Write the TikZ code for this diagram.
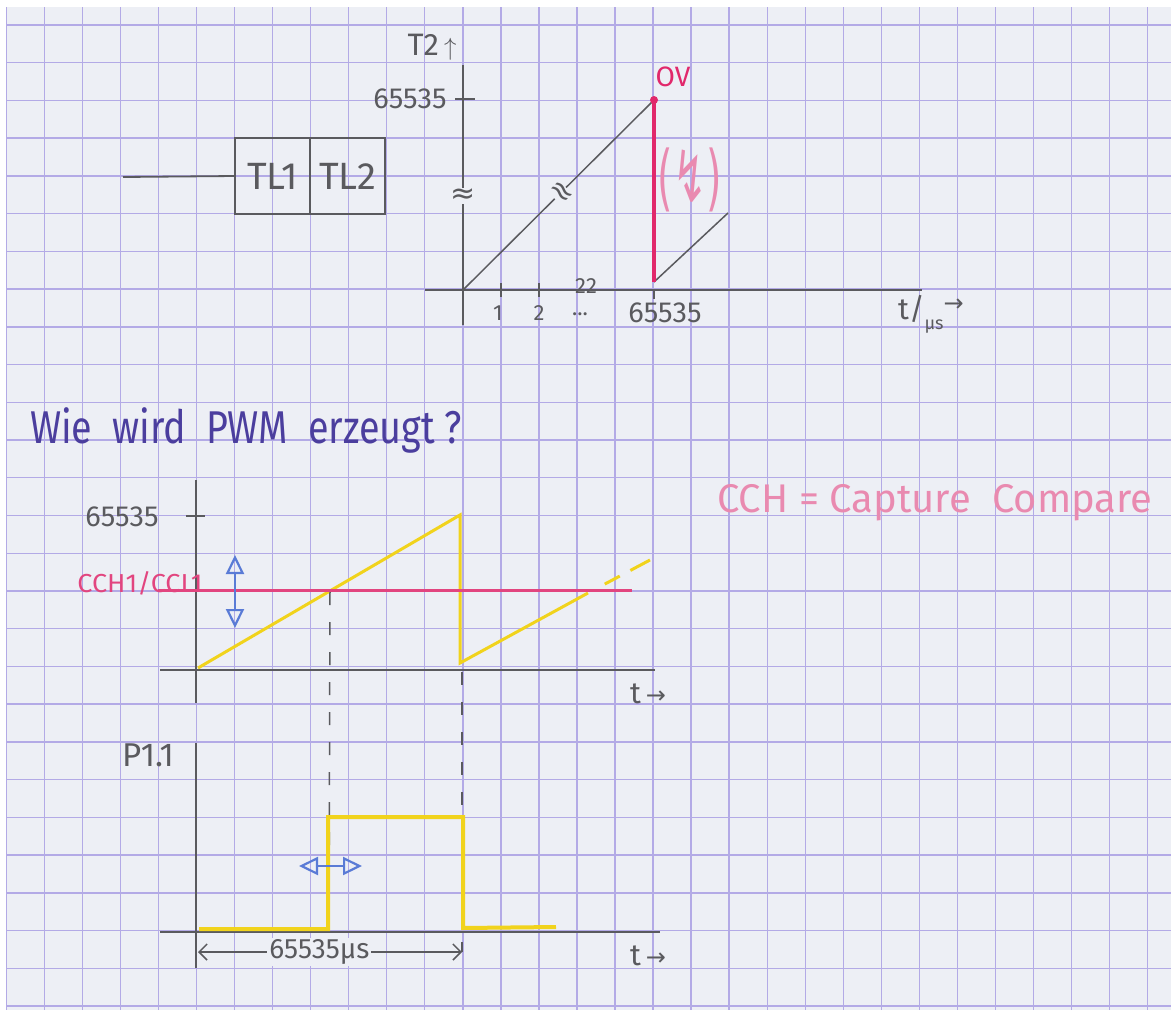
\documentclass[tikz,border=0pt]{standalone}
\usepackage{fontspec}
\setmainfont{Fira Sans}
\newfontfamily\symfont{DejaVu Sans}
\usetikzlibrary{positioning,calc,arrows.meta}
\definecolor{paper}{HTML}{EDEFF5}
\definecolor{gridlila}{HTML}{B3AAE6}
\definecolor{pencil}{HTML}{5A5A5E}
\definecolor{ccpink}{HTML}{E2457F}
\definecolor{ovred}{HTML}{E1286B}
\definecolor{lightpink}{HTML}{E98AB0}
\definecolor{pwmyellow}{HTML}{F1D31C}
\definecolor{inkblue}{HTML}{4B3E9E}
\definecolor{arrowblue}{HTML}{5A7BD6}
\newcommand{\fsz}[1]{\fontsize{#1}{#1}\selectfont}

\begin{document}
\begin{tikzpicture}[x=1pt, y=-1pt,
  gridline/.style={draw=gridlila, line width=1.4pt},
  axis/.style={draw=pencil, line width=1.8pt},
  ramp/.style={draw=pencil, line width=1.5pt},
  tickmark/.style={draw=pencil, line width=1.6pt},
  lbl/.style={text=pencil, inner sep=0pt, font=\fsz{29}},
  tlbox/.style={draw=pencil, line width=2.5pt, minimum width=75pt, minimum height=76pt, outer sep=0pt, inner sep=0pt, text=pencil, font=\fsz{38}},
  brk/.style={fill=paper, inner sep=0.5pt, text=pencil, font=\symfont\fsz{30}},
  saw/.style={draw=pwmyellow, line width=3pt},
  pwmline/.style={draw=pwmyellow, line width=4pt},
  helper/.style={draw=pencil, line width=1.5pt, dash pattern=on 13pt off 17pt},
  bluearrow/.style={draw=arrowblue, line width=2.2pt, {Triangle[open, length=19pt, width=18pt]}-{Triangle[open, length=19pt, width=18pt]}},
]
\useasboundingbox (0,0) rectangle (1171,1010);
% paper and grid
\fill[white] (0,0) rectangle (1171,1010);
\fill[paper] (7,7) rectangle (1171,1010);
\foreach \k in {0,...,30} \draw[gridline] ({6.2+38.05*\k},7) -- ++(0,1003);
\foreach \j in {0,...,26} \draw[gridline] (7,{25+37.73*\j}) -- (1171,{25+37.73*\j});

% timer register
\node[tlbox] (tlA) at (272.5,176) {TL1};
\node[tlbox, right=0pt of tlA] (tlB) {TL2};
\coordinate (lead) at (123,177);
\draw[axis] (lead) -- (tlA.west);

% timer graph
\coordinate (O1) at (463,290);
\coordinate (ytop1) at (463,65);
\coordinate (ybot1) at (463,325);
\coordinate (xl1) at (425,290);
\coordinate (xr1) at (922,290);
\coordinate (top1) at (654,100);
\coordinate (ovbot) at (654,282);
\coordinate (next1) at (728,213);
\draw[axis] (ybot1) -- node[brk, pos=0.496] (brkA) {≈} (ytop1);
\draw[axis] (xl1) -- (xr1);
\draw[tickmark] (455,99) -- (475,99);
\foreach \x in {501,539} \draw[tickmark] (\x,283) -- (\x,297);
\draw[tickmark] (654,290) -- (654,299);
\draw[ramp] (O1) -- node[brk, pos=0.51, rotate=-45] (brkB) {≈} (top1);
\draw[ramp] (ovbot) -- (next1);
\draw[draw=ovred, line width=3.5pt] (top1) -- (ovbot);
\fill[ovred] (top1) circle (4pt);
\node[lbl, font=\fsz{31}] (t2) at (432,47) {T2\,$\uparrow$};
\node[lbl] (max1) at (410,99) {65535};
\node[lbl, font=\fsz{22}] (one) at (498,313) {1};
\node[lbl, font=\fsz{22}] (two) at (539,313) {2};
\node[lbl, font=\fsz{22}] (dots) at (580,314) {...};
\node[lbl, font=\fsz{22}] (tt) at (586,286) {22};
\node[lbl] (maxx1) at (665,313) {65535};
\node[lbl, font=\fsz{30}, anchor=west] (tus) at (898,314) {t/\raisebox{-10pt}{\fsz{18}μs}\raisebox{8pt}{\symfont\fsz{24}→}};
\node[inner sep=0pt, text=ovred, font=\fsz{28}] (ov) at (673,77) {OV};
\node[inner sep=0pt, text=lightpink, font=\symfont\fsz{72}] (irq) at (690,180) {\scalebox{0.55}[1]{(↯)}};

% heading
\node[inner sep=0pt, anchor=base west, text=inkblue, font=\fsz{46}] (head) at (30,443) {\scalebox{0.82}[1]{Wie\ \ wird\ \ PWM\ \ erzeugt ?}};
\node[inner sep=0pt, anchor=base west, text=lightpink, font=\fsz{40}] (cch) at (717,512) {CCH = Capture\ \ Compare};

% compare graph
\coordinate (ytop2) at (196,480);
\coordinate (ybot2) at (196,703);
\coordinate (xl2) at (160,670);
\coordinate (xr2) at (655,670);
\coordinate (saw0) at (198,668);
\coordinate (saw1) at (460,515);
\coordinate (saw2) at (460,663);
\coordinate (saw3) at (588,593);
\coordinate (saw4) at (650,560);
\coordinate (ccl) at (158,590);
\coordinate (ccr) at (632,590);
\draw[axis] (ytop2) -- (ybot2);
\draw[axis] (xl2) -- (xr2);
\draw[tickmark] (186,516) -- (205,516);
\node[lbl] (max2) at (122,517) {65535};
\node[lbl, font=\fsz{30}] (t2lbl) at (648,694) {t\,{\symfont\fsz{24}→}};
\draw[saw] (saw0) -- (saw1) -- (saw2) -- (saw3);
\draw[saw, dash pattern=on 0pt off 19pt on 17pt off 12pt on 17pt] (saw3) -- (saw4);
\draw[draw=ccpink, line width=3pt] (ccl) -- (ccr);
\node[inner sep=0pt, text=ccpink, font=\fsz{26}] (cchlbl) at (140,583) {\scalebox{1.04}[1]{CCH1/CCL1}};
\coordinate (cup) at (235,555);
\coordinate (cdn) at (235,628);
\draw[bluearrow] (cup) -- (cdn);

% helper lines
\draw[helper] (330,592) -- (329,930);
\draw[helper] (462,672) -- (462,952);

% output graph
\coordinate (ytop3) at (196,743);
\coordinate (ybot3) at (196,968);
\coordinate (xl3) at (160,932);
\coordinate (xr3) at (660,932);
\draw[axis] (ytop3) -- (ybot3);
\draw[axis] (xl3) -- (xr3);
\node[lbl, font=\fsz{33}] (p11) at (148,755) {P1.1};
\node[lbl, font=\fsz{30}] (t3lbl) at (648,956) {t\,{\symfont\fsz{24}→}};
\coordinate (pw0) at (199,929);
\coordinate (pw1) at (328,929);
\coordinate (pw2) at (328,817);
\coordinate (pw3) at (463,817);
\coordinate (pw4) at (463,928);
\coordinate (pw5) at (556,927);
\draw[pwmline] (pw0) -- (pw1) -- (pw2) -- (pw3) -- (pw4) -- (pw5);
\coordinate (sl) at (299,866);
\coordinate (sr) at (362,866);
\draw[bluearrow] (sl) -- (sr);
\coordinate (dl) at (198,952);
\coordinate (dr) at (462,952);
\draw[draw=pencil, line width=1.5pt, {Straight Barb[length=8pt, width=16pt]}-{Straight Barb[length=8pt, width=16pt]}] (dl) -- node[fill=paper, inner sep=2pt, pos=0.46, text=pencil, font=\fsz{28}] (per) {65535μs} (dr);
\end{tikzpicture}
\end{document}
